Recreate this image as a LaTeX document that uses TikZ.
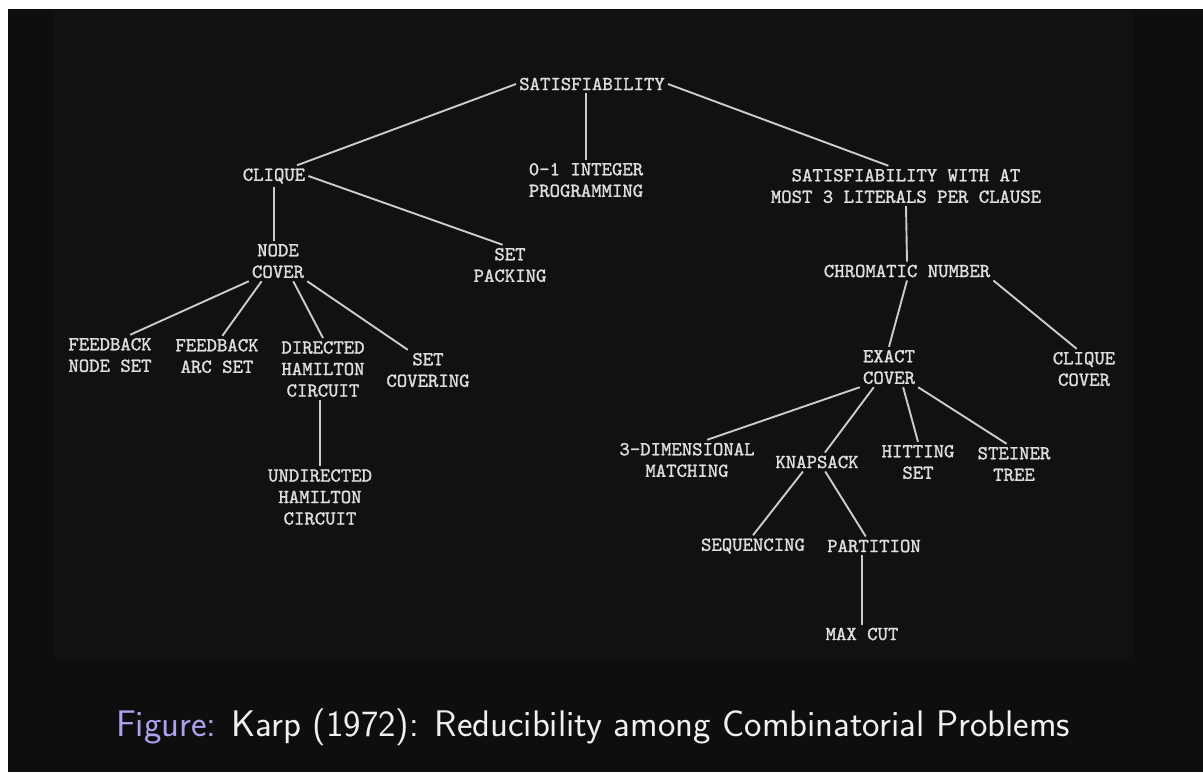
\documentclass[tikz,border=0pt]{standalone}
\usepackage{fontspec}
\usetikzlibrary{arrows,shapes}
\newfontfamily\typer{lmmono10-regular.otf}[FakeBold=1.4]
\definecolor{paper}{gray}{0.055}
\definecolor{photo}{gray}{0.068}
\definecolor{ink}{gray}{0.87}
\definecolor{figlabel}{RGB}{172,162,238}

\begin{document}
\begin{tikzpicture}[x=1pt,y=-1pt]
                \tikzstyle{prob}=[text=ink, font=\typer\fontsize{19.8}{21.5}\selectfont, align=center, inner sep=3pt]
                \tikzstyle{link}=[draw=ink!92!black, line width=1.9pt]

                \useasboundingbox (0,0) rectangle (1203,772);
                \fill[white] (0,0) rectangle (1203,772);
                \fill[paper] (8,9) rectangle (1203,772);
                \fill[photo] (54,10) rectangle (1134,658);

                \node[prob] (sat) at (592,84) {SATISFIABILITY};
                \node[prob] (prog) at (586,180) {0-1 INTEGER\\PROGRAMMING};
                \node[prob] (clique) at (274,176) {CLIQUE};
                \node[prob] (satw) at (906,186) {SATISFIABILITY WITH AT\\MOST 3 LITERALS PER CLAUSE};
                \node[prob] (nodec) at (278,261) {NODE\\COVER};
                \node[prob] (pack) at (510,265) {SET\\PACKING};
                \node[prob] (chrom) at (907,271) {CHROMATIC NUMBER};
                \node[prob] (fbn) at (110,355) {FEEDBACK\\NODE SET};
                \node[prob] (fba) at (217,356) {FEEDBACK\\ARC SET};
                \node[prob] (dir) at (323,369) {DIRECTED\\HAMILTON\\CIRCUIT};
                \node[prob] (setcov) at (428,370) {SET\\COVERING};
                \node[prob] (undir) at (320,497) {UNDIRECTED\\HAMILTON\\CIRCUIT};
                \node[prob] (exact) at (889,367) {EXACT\\COVER};
                \node[prob] (cqc) at (1084,369) {CLIQUE\\COVER};
                \node[prob] (dim) at (687,460) {3-DIMENSIONAL\\MATCHING};
                \node[prob] (knap) at (817,462) {KNAPSACK};
                \node[prob] (hit) at (918,462) {HITTING\\SET};
                \node[prob] (stein) at (1014,464) {STEINER\\TREE};
                \node[prob] (seq) at (753,546) {SEQUENCING};
                \node[prob] (part) at (874,546) {PARTITION};
                \node[prob] (maxcut) at (862,634) {MAX CUT};

                \draw[link] (sat.west) -- (clique.25);
                \draw[link] (sat.south -| prog.north) -- (prog.north);
                \draw[link] (sat.east) -- (satw.131);
                \draw[link] (clique.south) -- (clique.south |- nodec.north);
                \draw[link] (clique.east) -- (pack.110);
                \draw[link] (satw.south) -- (chrom.north);
                \draw[link] (nodec.south west) -- (fbn.45);
                \draw[link] (nodec.231) -- (fba.75);
                \draw[link] (nodec.-53) -- (dir.north);
                \draw[link] (nodec.south east) -- (setcov.135);
                \draw[link] (undir.north |- dir.south) -- (undir.north);
                \draw[link] (chrom.south) -- (exact.north);
                \draw[link] (chrom.south east) -- (cqc.110);
                \draw[link] (exact.south west) -- (dim.45);
                \draw[link] (exact.233) -- (knap.50);
                \draw[link] (exact.-55) -- (hit.north);
                \draw[link] (exact.south east) -- (stein.110);
                \draw[link] (knap.214) -- (seq.north);
                \draw[link] (knap.-49) -- (part.131);
                \draw[link] (maxcut.north |- part.south) -- (maxcut.north);

                \node (caption) at (593,736) [anchor=base, text=white!94!black, font=\sffamily\fontsize{37}{42}\selectfont] {\textcolor{figlabel}{Figure:} Karp (1972): Reducibility among Combinatorial Problems};
\end{tikzpicture}
\end{document}
